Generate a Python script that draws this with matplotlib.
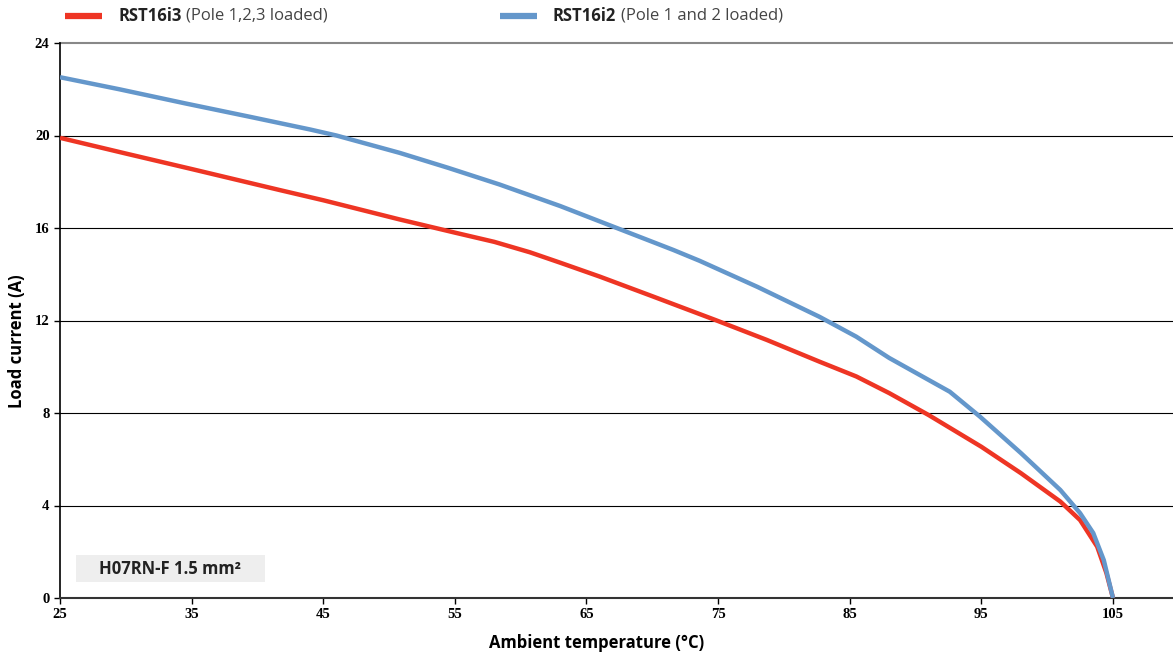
import numpy as np
import matplotlib.pyplot as plt
from matplotlib.lines import Line2D
from matplotlib.patches import Rectangle

# data
temp_i3 = [25, 30, 35, 41.7, 45, 50.8, 55, 58, 60.7, 63, 66, 70, 74.8, 78.7, 82.7, 85.5, 88, 91,
           95, 98, 101, 102.5, 103.8, 104.5, 105]
load_i3 = [19.9, 19.22, 18.55, 17.64, 17.2, 16.37, 15.8, 15.4, 14.95, 14.5, 13.9, 13.05, 12.02,
           11.16, 10.22, 9.58, 8.86, 7.91, 6.54, 5.4, 4.17, 3.37, 2.22, 1.08, 0.0]

temp_i2 = [25, 29.5, 34.5, 39.5, 44, 46, 50.8, 54.5, 58.4, 63, 67.3, 71.6, 73.6, 78, 82.7, 85.5,
           88, 92.6, 94.9, 98, 101, 102.5, 103.5, 104.3, 105]
load_i2 = [22.52, 22.0, 21.39, 20.8, 20.26, 20.0, 19.25, 18.6, 17.88, 16.95, 16.0, 15.05,
           14.58, 13.45, 12.16, 11.3, 10.38, 8.92, 7.84, 6.27, 4.67, 3.67, 2.81, 1.64, 0.0]

x_ticks = [25, 35, 45, 55, 65, 75, 85, 95, 105]
y_ticks = [0, 4, 8, 12, 16, 20, 24]

red = '#ee3524'
blue = '#6497cb'
W, H = 1173, 657

fig = plt.figure(figsize=(W / 100, H / 100), dpi=100)
ax = fig.add_axes([60 / W, 1 - 598 / H, 1 - 60 / W, (598 - 43) / H])

ax.set_xlim(25, 109.56)
ax.set_ylim(0, 24)

for y in y_ticks[1:-1]:
    ax.axhline(y, color='black', lw=0.8, zorder=1)
ax.axhline(24, color='#888888', lw=1.5, zorder=1, clip_on=False)

ax.plot(temp_i3, load_i3, color=red, lw=3.2, solid_capstyle='butt',
        solid_joinstyle='round', zorder=3)
ax.plot(temp_i2, load_i2, color=blue, lw=3.2, solid_capstyle='butt',
        solid_joinstyle='round', zorder=4)

for s in ['top', 'right']:
    ax.spines[s].set_visible(False)
ax.spines['left'].set_linewidth(1.2)
ax.spines['bottom'].set_linewidth(1.5)
ax.spines['bottom'].set_color('#333333')

ax.set_xticks(x_ticks)
ax.set_yticks(y_ticks)
ax.tick_params(axis='both', length=4, width=1, direction='out')
for lab in ax.get_xticklabels() + ax.get_yticklabels():
    lab.set_family('Liberation Serif')
    lab.set_fontweight('bold')
    lab.set_fontsize(10.5)

# axis titles placed by hand
fig.text(597 / W, 1 - 643 / H, 'Ambient temperature (°C)', fontsize=12,
         fontweight='bold', family='Open Sans', ha='center', va='center')
fig.text(17 / W, 1 - 341 / H, 'Load current (A)', fontsize=12, fontweight='bold',
         family='Open Sans', ha='center', va='center', rotation=90)

# cable label box
fig.add_artist(Rectangle((76 / W, 1 - 582 / H), 189 / W, 27 / H,
                         transform=fig.transFigure, fc='#eeeeee', ec='none', zorder=2))
fig.text(99 / W, 1 - 569 / H, 'H07RN-F 1.5 mm²', fontsize=12, fontweight='bold',
         family='Open Sans', color='#222222', ha='left', va='center', zorder=3)

# legend at the top, drawn by hand
def legend_item(x0, color, name, desc):
    fig.add_artist(Line2D([x0 / W, (x0 + 37) / W], [1 - 16 / H] * 2,
                          color=color, lw=4.5, solid_capstyle='butt'))
    t = fig.text((x0 + 53) / W, 1 - 16 / H, name, fontsize=12,
                 fontweight='bold', family='Open Sans', color='#222222', va='center')
    fig.canvas.draw()
    bb = t.get_window_extent()
    fig.text(bb.x1 / W + 0.004, 1 - 16 / H, desc, fontsize=12,
             family='Open Sans', color='#444444', va='center')

legend_item(65, red, 'RST16i3', '(Pole 1,2,3 loaded)')
legend_item(500, blue, 'RST16i2', '(Pole 1 and 2 loaded)')

fig.savefig('out.png', dpi=100)
